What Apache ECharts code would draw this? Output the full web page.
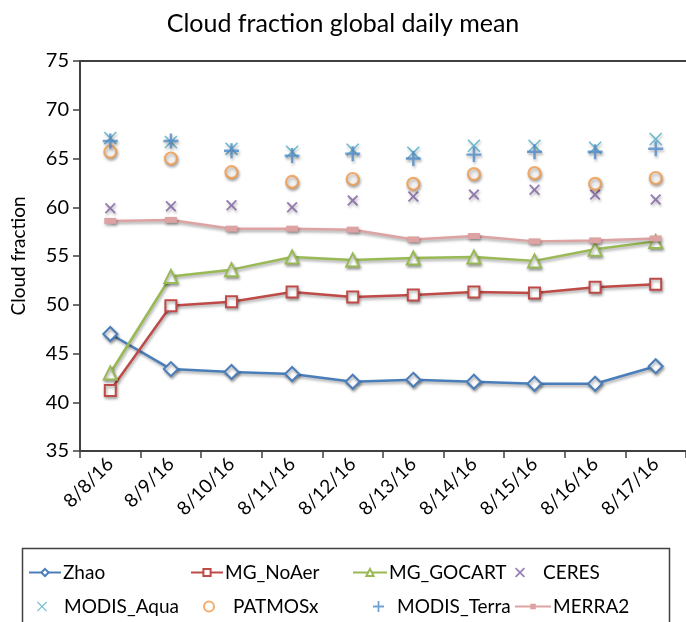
<!DOCTYPE html>
<html>
<head>
<meta charset="utf-8">
<script src="https://cdn.jsdelivr.net/npm/echarts@6/dist/echarts.min.js"></script>
<style>html,body{margin:0;padding:0;background:#fff}#c{width:686px;height:622px}</style>
</head>
<body>
<div id="c"></div>
<script>
var categories = ['8/8/16','8/9/16','8/10/16','8/11/16','8/12/16','8/13/16','8/14/16','8/15/16','8/16/16','8/17/16'];
var yTicks = [35,40,45,50,55,60,65,70,75];
var zhao      = [47.0, 43.4, 43.1, 42.9, 42.1, 42.3, 42.1, 41.9, 41.9, 43.7];
var mgNoAer   = [41.2, 49.9, 50.3, 51.3, 50.8, 51.0, 51.3, 51.2, 51.8, 52.1];
var mgGocart  = [43.0, 52.9, 53.6, 54.9, 54.6, 54.8, 54.9, 54.5, 55.7, 56.5];
var ceres     = [59.9, 60.1, 60.2, 60.0, 60.7, 61.1, 61.3, 61.8, 61.3, 60.8];
var modisAqua = [67.1, 66.7, 66.0, 65.7, 65.9, 65.6, 66.3, 66.3, 66.1, 67.0];
var patmosx   = [65.7, 65.0, 63.6, 62.6, 62.9, 62.4, 63.4, 63.5, 62.4, 63.0];
var modisTerra= [66.8, 66.8, 65.8, 65.3, 65.5, 65.0, 65.4, 65.7, 65.7, 66.0];
var merra2    = [58.6, 58.7, 57.8, 57.8, 57.7, 56.7, 57.05, 56.5, 56.6, 56.8];

var FONT = 'Lato, "Open Sans", sans-serif';
var XPATH = 'path://M0,1.2L1.2,0L5,3.8L8.8,0L10,1.2L6.2,5L10,8.8L8.8,10L5,6.2L1.2,10L0,8.8L3.8,5Z';
var XTHIN = 'path://M0,0.8L0.8,0L5,4.2L9.2,0L10,0.8L5.8,5L10,9.2L9.2,10L5,5.8L0.8,10L0,9.2L4.2,5Z';
var PLUS = 'path://M4.2,0H5.8V4.2H10V5.8H5.8V10H4.2V5.8H0V4.2H4.2Z';
var shadow = {shadowColor:'rgba(0,0,0,0.35)', shadowBlur:3, shadowOffsetX:1, shadowOffsetY:2};

function lineSeries(name, data, color, symbol, size, hollow) {
  return {
    name: name, type: 'line', data: data, symbol: symbol, symbolSize: size,
    showSymbol: true,
    lineStyle: Object.assign({color: color, width: 2.5}, shadow),
    itemStyle: Object.assign(hollow ? {color: '#fff', borderColor: color, borderWidth: 2} : {color: color, borderWidth: 0}, shadow),
    z: 3
  };
}
function scatterSeries(name, data, color, symbol, size, hollow) {
  return {
    name: name, type: 'scatter', data: data, symbol: symbol, symbolSize: size,
    itemStyle: Object.assign(hollow ? {color: '#fff', borderColor: color, borderWidth: 2.2} : {color: color}, shadow),
    z: 4
  };
}

var series = [
  lineSeries('Zhao', zhao, '#4A7EBB', 'diamond', 14, true),
  lineSeries('MG_NoAer', mgNoAer, '#BE4B48', 'rect', 11, true),
  lineSeries('MG_GOCART', mgGocart, '#98B954', 'triangle', 13, true),
  scatterSeries('CERES', ceres, '#7D5FA0', XPATH, 11, false),
  scatterSeries('MODIS_Aqua', modisAqua, '#46AAC5', XTHIN, 13, false),
  scatterSeries('PATMOSx', patmosx, '#F09A4A', 'circle', 12, true),
  scatterSeries('MODIS_Terra', modisTerra, '#4F8BC9', PLUS, 15, false),
  lineSeries('MERRA2', merra2, '#DDA3A2', 'rect', [12, 6], false)
];

function lg(name, left, top, iw, ih, pad) {
  return {
    data: [name], left: left, top: top, itemWidth: iw, itemHeight: ih, itemGap: 0,
    padding: 0, selectedMode: false,
    textStyle: {fontFamily: FONT, fontSize: 19, color: '#000', padding: [0,0,0,pad]}
  };
}

var chart = echarts.init(document.getElementById('c'), null, {renderer: 'canvas'});
chart.setOption({
  animation: false,
  backgroundColor: '#fff',
  title: {
    text: 'Cloud fraction global daily mean', left: 'center', top: 6,
    textStyle: {fontFamily: FONT, fontSize: 25, fontWeight: 'normal', color: '#000'}
  },
  grid: {left: 80, top: 61, right: -5, bottom: 171, containLabel: false},
  xAxis: [{
    type: 'category', data: categories, boundaryGap: true,
    axisLine: {lineStyle: {color: '#404040', width: 2}},
    axisTick: {show: true, inside: false, length: 7, lineStyle: {color: '#404040', width: 1.5}},
    axisLabel: {rotate: 45, fontFamily: FONT, fontSize: 19, color: '#000', margin: 10, interval: 0},
    splitLine: {show: false}
  }, {
    type: 'category', data: categories, position: 'top',
    axisLine: {lineStyle: {color: '#404040', width: 2}},
    axisTick: {show: false}, axisLabel: {show: false}, splitLine: {show: false}
  }],
  yAxis: {
    type: 'value', min: yTicks[0], max: yTicks[yTicks.length - 1], interval: 5,
    name: 'Cloud fraction', nameLocation: 'middle', nameGap: 52, nameRotate: 90,
    nameTextStyle: {fontFamily: FONT, fontSize: 19, color: '#000'},
    axisLine: {show: true, lineStyle: {color: '#404040', width: 2}},
    axisTick: {show: true, inside: false, length: 7, lineStyle: {color: '#404040', width: 1.5}},
    axisLabel: {fontFamily: FONT, fontSize: 20, color: '#000', margin: 11},
    splitLine: {show: false}
  },
  legend: [
    lg('Zhao', 28, 563, 32, 9, -3),
    lg('MG_NoAer', 190, 563, 32, 9, -3),
    lg('MG_GOCART', 352, 563, 34, 9, -3),
    lg('CERES', 515, 563, 10, 10, 13),
    lg('MODIS_Aqua', 37, 597, 10, 10, 12),
    lg('PATMOSx', 203, 597, 10, 10, 14),
    lg('MODIS_Terra', 373, 597, 11, 11, 8),
    lg('MERRA2', 514, 597, 36, 7, -3)
  ],
  graphic: [{
    type: 'rect', shape: {x: 22.5, y: 548.5, width: 647, height: 90},
    style: {fill: 'none', stroke: '#404040', lineWidth: 1.5}, z: 0, silent: true
  }],
  series: series
});
</script>
</body>
</html>
